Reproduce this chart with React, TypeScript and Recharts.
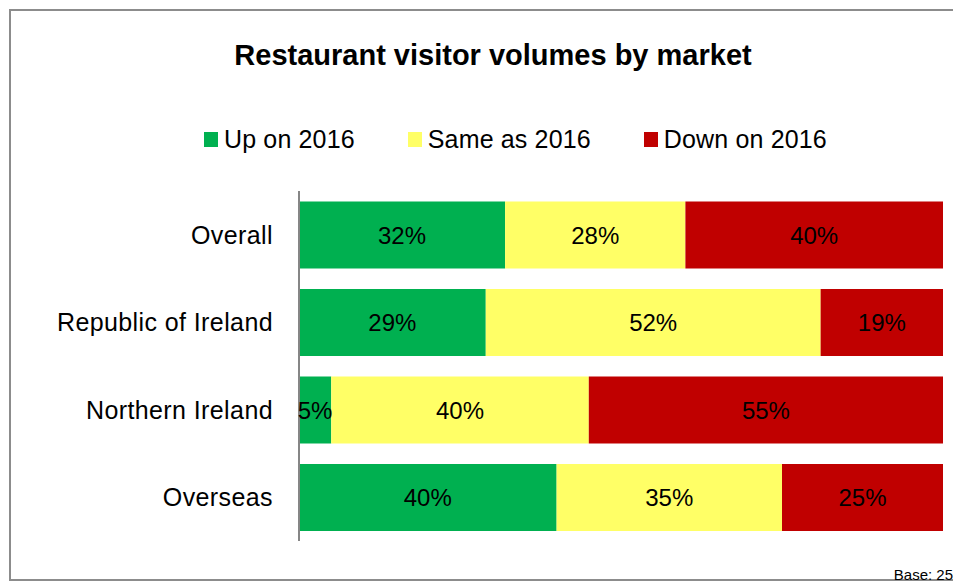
import React from 'react'
import { BarChart, Bar, XAxis, YAxis, LabelList } from 'recharts'

const categories = ['Overall', 'Republic of Ireland', 'Northern Ireland', 'Overseas']
const upOn2016 = [32, 29, 5, 40]
const sameAs2016 = [28, 52, 40, 35]
const downOn2016 = [40, 19, 55, 25]

const seriesNames = ['Up on 2016', 'Same as 2016', 'Down on 2016']
const seriesKeys = ['up', 'same', 'down']
const seriesColors = ['#00B050', '#FFFF66', '#C00000']

const data = categories.map((market, i) => ({
  market,
  up: upOn2016[i],
  same: sameAs2016[i],
  down: downOn2016[i],
}))

const font = '"Liberation Sans", Arial, sans-serif'

const ChartLegend = () => (
  <div
    style={{
      position: 'absolute',
      left: 196,
      top: 116,
      display: 'flex',
      alignItems: 'center',
      fontSize: 25,
      lineHeight: '30px',
      color: '#000',
    }}
  >
    {seriesNames.map((name, i) => (
      <div key={name} style={{ display: 'flex', alignItems: 'center', marginRight: i < seriesNames.length - 1 ? 53 : 0 }}>
        <span style={{ width: 14, height: 15, background: seriesColors[i], display: 'inline-block', marginRight: 6 }} />
        <span style={{ letterSpacing: 0.15 }}>{name}</span>
      </div>
    ))}
  </div>
)

const App: React.FC = () => {
  return (
    <div style={{ position: 'relative', width: 953, height: 575, overflow: 'hidden', fontFamily: font }}>
      <div
        style={{
          position: 'absolute',
          left: 1,
          top: 1,
          width: 1000,
          height: 572,
          border: '2px solid #8c8c8c',
          boxSizing: 'border-box',
        }}
      />
      <div
        style={{
          position: 'absolute',
          left: 0,
          top: 30,
          width: 970,
          textAlign: 'center',
          fontSize: 29,
          fontWeight: 'bold',
          lineHeight: '34px',
          color: '#000',
        }}
      >
        Restaurant visitor volumes by market
      </div>
      <ChartLegend />
      <div style={{ position: 'absolute', left: 0, top: 0 }}>
        <BarChart
          layout='vertical'
          width={953}
          height={575}
          data={data}
          margin={{ top: 183, right: 18, bottom: 42, left: 0 }}
          barCategoryGap='12%'
        >
          <XAxis type='number' domain={[0, 100]} hide />
          <YAxis
            type='category'
            dataKey='market'
            width={291}
            axisLine={{ stroke: '#868686', strokeWidth: 2 }}
            tickLine={false}
            tickSize={0}
            tickMargin={26}
            tick={{ fill: '#000', fontSize: 25, fontFamily: font, letterSpacing: 0.4 }}
          />
          {seriesKeys.map((key, i) => (
            <Bar
              key={key}
              dataKey={key}
              name={seriesNames[i]}
              stackId='a'
              fill={seriesColors[i]}
              isAnimationActive={false}
            >
              <LabelList
                dataKey={key}
                position='center'
                formatter={(v: number) => `${v}%`}
                fill='#000'
                fontSize={24}
                fontFamily={font}
              />
            </Bar>
          ))}
        </BarChart>
      </div>
      <div
        style={{
          position: 'absolute',
          right: 8,
          top: 559,
          fontSize: 15,
          lineHeight: '15px',
          color: '#000',
        }}
      >
        Base: 25
      </div>
    </div>
  )
}

export default App
